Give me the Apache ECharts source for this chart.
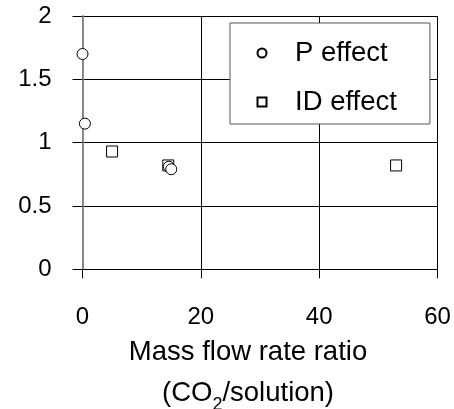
<!DOCTYPE html>
<html>
<head>
<meta charset="utf-8">
<script src="https://cdn.jsdelivr.net/npm/echarts@6/dist/echarts.min.js"></script>
<style>
  html,body{margin:0;padding:0;background:#fff;}
  #chart{width:454px;height:409px;}
</style>
</head>
<body>
<div id="chart"></div>
<script>
// P effect points [ratio, value]
const pEffect=[[0,1.7],[0.4,1.15],[14.6,0.81],[15,0.79]]
// ID effect points
const idEffect=[[5,0.93],[14.5,0.82],[53,0.82]]
const seriesNames=['P effect','ID effect']
const xTicks={min:0,max:60,interval:20}
const yTicks={min:0,max:2,interval:0.5}

const font='"Liberation Sans", Arial, sans-serif'
let chart=echarts.init(document.getElementById('chart'))
let option={
  animation:false,
  grid:{left:82.5,right:16.5,top:16,bottom:139.7,outerBoundsMode:'none',containLabel:false},
  legend:{
    left:230,top:23,
    orient:'vertical',
    backgroundColor:'#fff',
    borderColor:'#555',borderWidth:1,
    padding:[15,33,7,26.5],
    itemWidth:9,itemHeight:9,itemGap:19,
    textStyle:{fontFamily:font,fontSize:27.5,color:'#000',lineHeight:30,padding:[0,0,0,23.5]},
    data:[
      {name:seriesNames[0],icon:'circle'},
      {name:seriesNames[1],icon:'rect'}
    ]
  },
  xAxis:{
    type:'value',
    min:xTicks.min,max:xTicks.max,interval:xTicks.interval,
    axisLine:{onZero:false,lineStyle:{color:'#000',width:1}},
    axisTick:{show:true,length:9,lineStyle:{color:'#000'}},
    axisLabel:{margin:36,fontFamily:font,fontSize:24,color:'#000'},
    splitLine:{show:true,lineStyle:{color:'#000',width:1}},
    name:'{a|Mass flow rate ratio}\n{a|(CO}{s|2}{a|/solution)}',
    nameLocation:'middle',
    nameGap:63,
    nameTextStyle:{
      padding:[0,24,0,0],
      rich:{
        a:{fontFamily:font,fontSize:27.5,color:'#000',lineHeight:41},
        s:{fontFamily:font,fontSize:18,color:'#000',lineHeight:41,verticalAlign:'bottom',padding:[16,0,0,0]}
      }
    }
  },
  yAxis:{
    type:'value',
    min:yTicks.min,max:yTicks.max,interval:yTicks.interval,
    axisLine:{show:true,onZero:false,lineStyle:{color:'#888',width:2}},
    axisTick:{show:true,length:10,lineStyle:{color:'#000'}},
    axisLabel:{margin:31,fontFamily:font,fontSize:24,color:'#000'},
    splitLine:{show:true,lineStyle:{color:'#000',width:1}}
  },
  series:[
    {
      name:seriesNames[0],type:'scatter',
      symbol:'circle',symbolSize:11,
      itemStyle:{color:'#fff',borderColor:'#000',borderWidth:1,opacity:1},
      data:pEffect,z:3
    },
    {
      name:seriesNames[1],type:'scatter',
      symbol:'rect',symbolSize:11,
      itemStyle:{color:'#fff',borderColor:'#000',borderWidth:1,opacity:1},
      data:idEffect,z:2
    }
  ]
}
chart.setOption(option)
</script>
</body>
</html>
